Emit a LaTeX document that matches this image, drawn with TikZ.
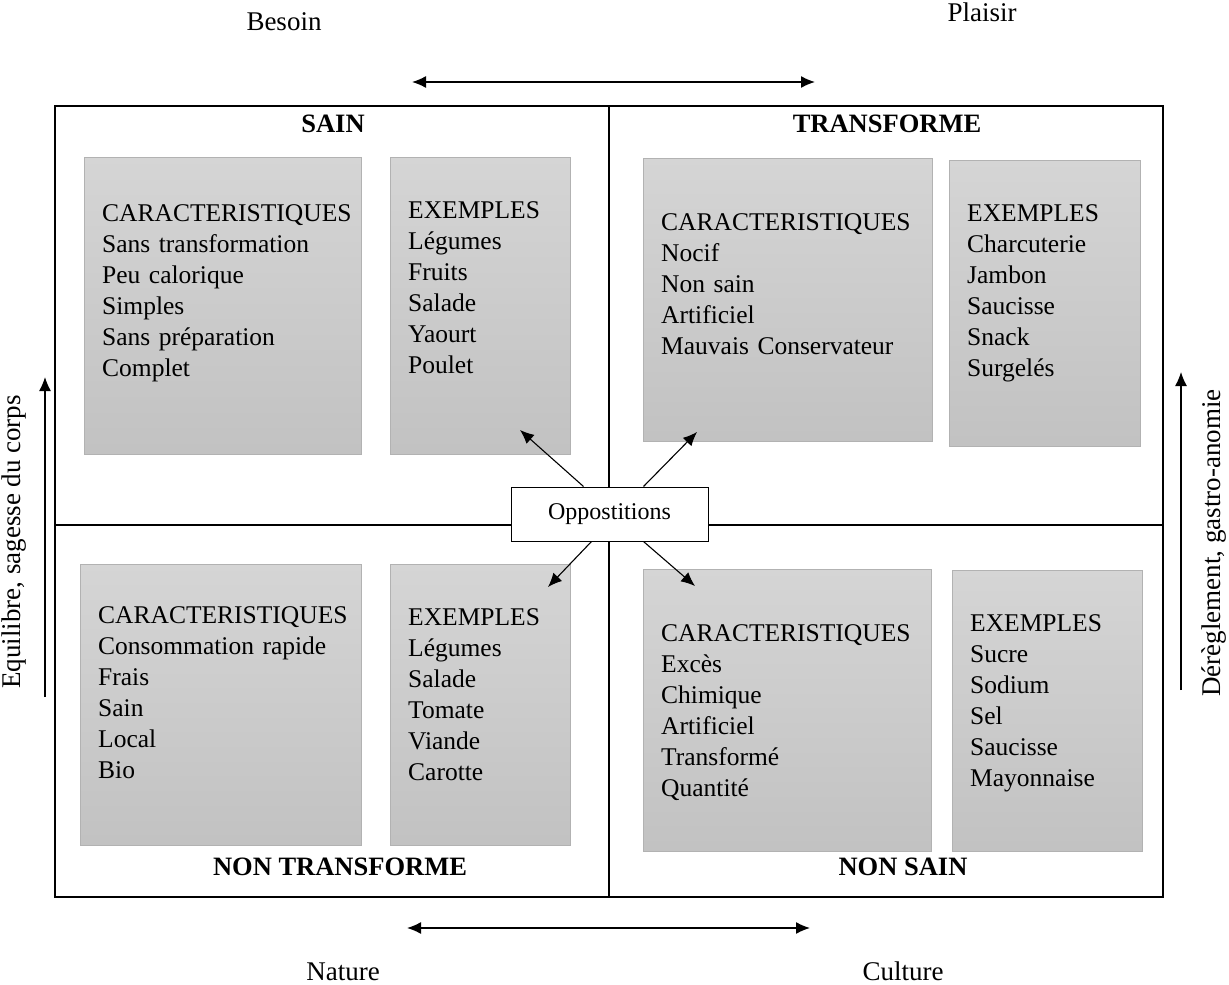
\documentclass[tikz,border=0pt]{standalone}
\usepackage{fontspec}
\setmainfont{Liberation Serif}
\usetikzlibrary{arrows.meta}

\begin{document}
\begin{tikzpicture}[x=1pt, y=-1pt,
    frame/.style={draw, line width=1.2pt},
    card/.style={draw=gray!60, top color=gray!33, bottom color=gray!48},
    list/.style={anchor=base west, align=left, text width=270pt, inner sep=0pt,
      font=\fontsize{25.5}{31}\selectfont},
    title/.style={anchor=base, inner sep=0pt, font=\bfseries\fontsize{26.5}{30}\selectfont},
    pole/.style={anchor=base, inner sep=0pt, font=\fontsize{27}{31}\selectfont},
    axis/.style={{Latex[length=14pt,width=12pt]}-{Latex[length=14pt,width=12pt]}, line width=1.4pt},
    side/.style={-{Latex[length=14pt,width=12pt]}, line width=1.2pt},
    link/.style={-{Latex[length=14pt,width=12pt]}, line width=1.1pt}
  ]
  \useasboundingbox (0,0) rectangle (1229,985);

  % poles and their axes
  \node[pole] (besoin) at (284,30) {Besoin};
  \node[pole] (plaisir) at (982,21) {Plaisir};
  \node[pole] (nature) at (343,980) {Nature};
  \node[pole] (culture) at (903,980) {Culture};
  \coordinate (top l) at (412,82);
  \coordinate (top r) at (815,82);
  \coordinate (bot l) at (407,928);
  \coordinate (bot r) at (810,928);
  \draw[axis] (top l) -- (top r);
  \draw[axis] (bot l) -- (bot r);

  \node[pole, anchor=center, rotate=90] (equilibre) at (14,542) {Equilibre, sagesse du corps};
  \node[pole, anchor=center, rotate=90] (dereglement) at (1214,543) {Dérèglement, gastro-anomie};
  \coordinate (left lo) at (45,697);
  \coordinate (left hi) at (45,377);
  \coordinate (right lo) at (1181,690);
  \coordinate (right hi) at (1181,372);
  \draw[side] (left lo) -- (left hi);
  \draw[side] (right lo) -- (right hi);

  % the four quadrants
  \node[frame, minimum width=1108pt, minimum height=791pt, inner sep=0pt] (frame) at (609,501.5) {};
  \coordinate (mid) at (609,525);
  \draw[frame] (frame.north) -- (frame.south);
  \draw[frame] (frame.west |- mid) -- (frame.east |- mid);

  \node[title] (sain) at (333,132) {SAIN};
  \node[title] (transforme) at (887,132) {TRANSFORME};
  \node[title] (nontransforme) at (340,875) {NON TRANSFORME};
  \node[title] (nonsain) at (903,875) {NON SAIN};

  % grey cards
  \draw[card] (84,157) rectangle (361,454);
  \draw[card] (390,157) rectangle (570,454);
  \draw[card] (643,158) rectangle (932,441);
  \draw[card] (949,160) rectangle (1140,446);
  \draw[card] (80,564) rectangle (361,845);
  \draw[card] (390,564) rectangle (570,845);
  \draw[card] (643,569) rectangle (931,851);
  \draw[card] (952,570) rectangle (1142,851);

  \node[list] (sain car) at (102,221)
    {CARACTERISTIQUES\\Sans transformation\\Peu calorique\\Simples\\Sans préparation\\Complet};
  \node[list] (sain ex) at (408,218)
    {EXEMPLES\\Légumes\\Fruits\\Salade\\Yaourt\\Poulet};
  \node[list] (transf car) at (661,230)
    {CARACTERISTIQUES\\Nocif\\Non sain\\Artificiel\\Mauvais Conservateur};
  \node[list] (transf ex) at (967,221)
    {EXEMPLES\\Charcuterie\\Jambon\\Saucisse\\Snack\\Surgelés};
  \node[list] (ntransf car) at (98,623)
    {CARACTERISTIQUES\\Consommation rapide\\Frais\\Sain\\Local\\Bio};
  \node[list] (ntransf ex) at (408,625)
    {EXEMPLES\\Légumes\\Salade\\Tomate\\Viande\\Carotte};
  \node[list] (nsain car) at (661,641)
    {CARACTERISTIQUES\\Excès\\Chimique\\Artificiel\\Transformé\\Quantité};
  \node[list] (nsain ex) at (970,631)
    {EXEMPLES\\Sucre\\Sodium\\Sel\\Saucisse\\Mayonnaise};

  % centre box and its arrows
  \node[draw, fill=white, line width=1pt, minimum width=197pt, minimum height=54pt,
    font=\fontsize{24}{28}\selectfont] (opp) at (609.5,514) {Oppostitions};
  \coordinate (to sain) at (520,430);
  \coordinate (to transf) at (697,432);
  \coordinate (to ntransf) at (548,587);
  \coordinate (to nsain) at (695,586);
  \draw[link] ([xshift=-26pt]opp.north) -- (to sain);
  \draw[link] ([xshift=34pt]opp.north) -- (to transf);
  \draw[link] ([xshift=-18pt]opp.south) -- (to ntransf);
  \draw[link] ([xshift=34pt]opp.south) -- (to nsain);
\end{tikzpicture}
\end{document}
